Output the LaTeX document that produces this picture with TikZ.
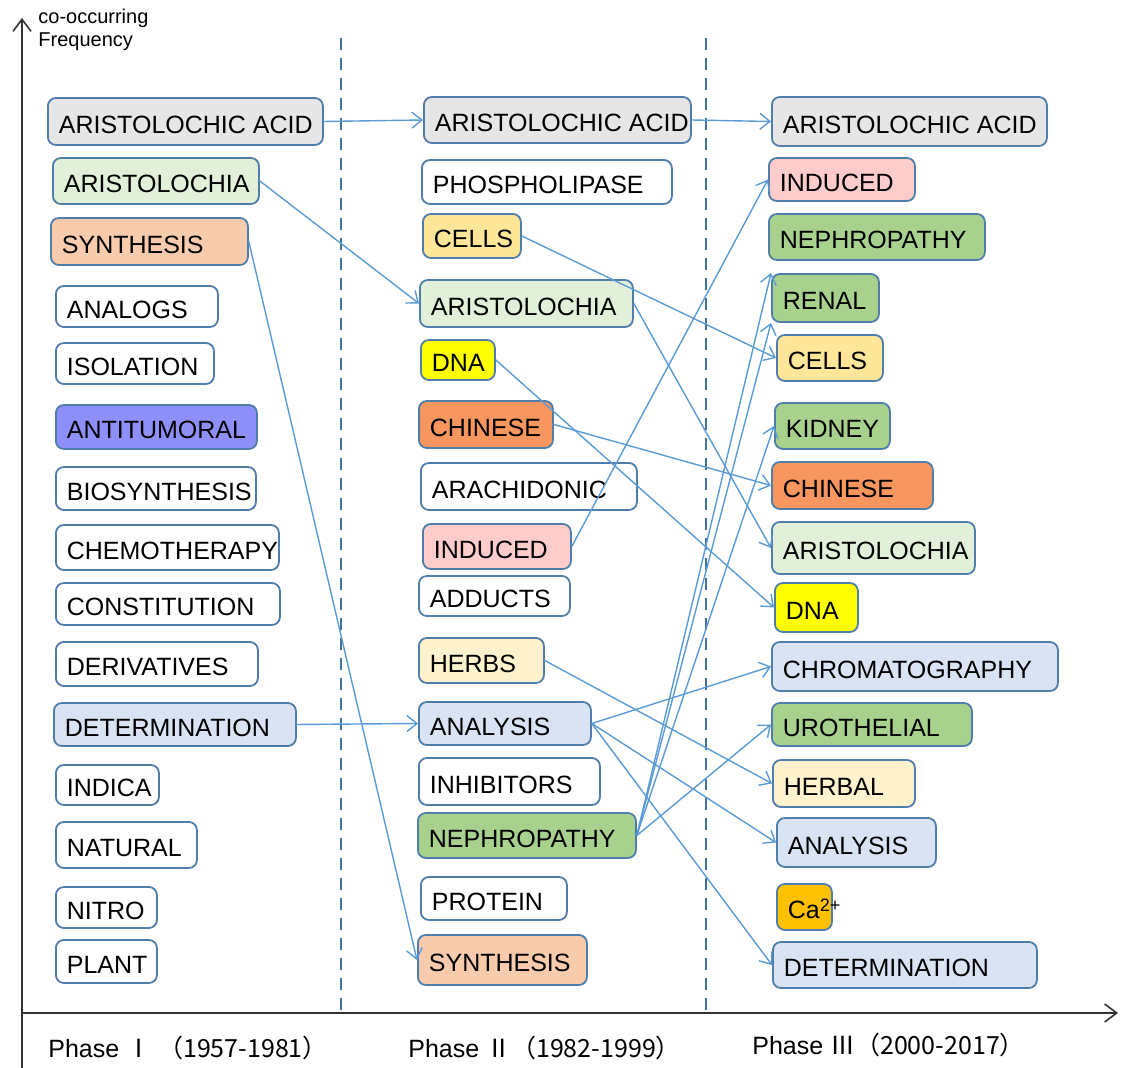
\documentclass[tikz,border=0pt]{standalone}
\usepackage{fontspec}
\setmainfont{Liberation Sans}
\newfontfamily\cjk{Noto Sans CJK SC}
\usetikzlibrary{arrows.meta}
\definecolor{kwline}{RGB}{80,126,170}
\definecolor{kwlink}{RGB}{91,155,213}
\definecolor{kwdash}{RGB}{65,113,156}
\definecolor{kwgray}{RGB}{231,230,230}
\definecolor{kwlgreen}{RGB}{226,240,217}
\definecolor{kwpeach}{RGB}{248,203,173}
\definecolor{kwpurple}{RGB}{143,143,250}
\definecolor{kwsand}{RGB}{255,230,153}
\definecolor{kwyellow}{RGB}{255,255,0}
\definecolor{kworange}{RGB}{247,150,94}
\definecolor{kwpink}{RGB}{255,204,204}
\definecolor{kwcream}{RGB}{255,242,204}
\definecolor{kwblue}{RGB}{218,227,243}
\definecolor{kwgreen}{RGB}{169,209,142}
\definecolor{kwgold}{RGB}{255,192,0}
\tikzset{
  kw/.style={draw=kwline, line width=0.9pt, rounded corners=4pt, anchor=west,
    inner xsep=5.5pt, inner ysep=0pt, text height=12pt, text depth=0pt,
    font=\fontsize{12.5}{14}\selectfont},
  link/.style={draw=kwlink, line width=0.7pt, -{Straight Barb[length=5pt,width=8pt]}},
  phase/.style={anchor=base west, inner sep=0pt, font=\fontsize{12.5}{14}\selectfont}
}
\begin{document}
\begin{tikzpicture}[x=0.5pt,y=-0.5pt, line join=round, line cap=round]
  \useasboundingbox (0,0) rectangle (1126,1068);
  % axes
  \draw[line width=0.8pt, black!80, -{Straight Barb[length=6pt,width=9pt]}] (22,1068) -- (22,18);
  \draw[line width=0.8pt, black!80, -{Straight Barb[length=6pt,width=9pt]}] (22,1013) -- (1118,1013);
  \node[anchor=north west, align=left, inner sep=0pt, font=\fontsize{10}{11.5}\selectfont] (freq) at (38,9) {co-occurring\\Frequency};
  % phase borders
  \draw[kwdash, line width=1.4pt, dash pattern=on 6pt off 4pt, line cap=butt] (341,38) -- (341,1010);
  \draw[kwdash, line width=1.4pt, dash pattern=on 6pt off 4pt, line cap=butt] (706,38) -- (706,1010);
  % keywords: left/right/top/bottom/fill/name/text
  \foreach \xa/\xb/\ya/\yb/\col/\nm/\txt in {
    47/322/98/145/kwgray/aaI/ARISTOLOCHIC ACID,
    52/258/158/204/kwlgreen/arisI/ARISTOLOCHIA,
    50/247/218/265/kwpeach/synI/SYNTHESIS,
    55/217/286/327/white/anaI/ANALOGS,
    55/213/343/384/white/isoI/ISOLATION,
    55/256/405/449/kwpurple/antiI/ANTITUMORAL,
    55/255/467/510/white/biosI/BIOSYNTHESIS,
    55/278/525/570/white/chemI/CHEMOTHERAPY,
    55/279/583/625/white/consI/CONSTITUTION,
    55/257/642/686/white/derI/DERIVATIVES,
    53/295/703/746/kwblue/detI/DETERMINATION,
    55/158/765/805/white/indI/INDICA,
    55/196/822/868/white/natI/NATURAL,
    55/156/887/928/white/nitI/NITRO,
    55/156/940/983/white/plaI/PLANT,
    423/690/97/143/kwgray/aaII/ARISTOLOCHIC ACID,
    421/671/160/204/white/phosII/PHOSPHOLIPASE,
    422/520/214/258/kwsand/cellsII/CELLS,
    419/632/280/327/kwlgreen/arisII/ARISTOLOCHIA,
    420/494/340/380/kwyellow/dnaII/DNA,
    418/552/401/448/kworange/chinII/CHINESE,
    420/636/463/510/white/arachII/ARACHIDONIC,
    422/570/524/569/kwpink/indII/INDUCED,
    418/569/576/616/white/addII/ADDUCTS,
    418/543/638/683/kwcream/herbsII/HERBS,
    418/590/702/745/kwblue/anaII/ANALYSIS,
    418/599/758/805/white/inhII/INHIBITORS,
    417/635/813/858/kwgreen/nephII/NEPHROPATHY,
    420/566/877/920/white/protII/PROTEIN,
    417/586/935/985/kwpeach/synII/SYNTHESIS,
    771/1046/97/146/kwgray/aaIII/ARISTOLOCHIC ACID,
    768/914/158/201/kwpink/indIII/INDUCED,
    768/984/214/260/kwgreen/nephIII/NEPHROPATHY,
    771/878/274/322/kwgreen/renIII/RENAL,
    776/882/335/381/kwsand/cellsIII/CELLS,
    774/889/403/449/kwgreen/kidIII/KIDNEY,
    771/932/462/509/kworange/chinIII/CHINESE,
    771/974/522/574/kwlgreen/arisIII/ARISTOLOCHIA,
    774/857/583/632/kwyellow/dnaIII/DNA,
    771/1057/642/691/kwblue/chromIII/CHROMATOGRAPHY,
    771/971/703/746/kwgreen/uroIII/UROTHELIAL,
    772/914/760/807/kwcream/herbIII/HERBAL,
    776/935/818/867/kwblue/anaIII/ANALYSIS,
    776/831/884/930/kwgold/caIII/Ca{\fontsize{9}{10}\selectfont\raisebox{3.5pt}{2+}},
    772/1036/942/988/kwblue/detIII/DETERMINATION}{
    \pgfmathsetmacro\w{(\xb-\xa)*0.5-11}
    \pgfmathsetmacro\h{(\yb-\ya)*0.5}
    \node[kw, fill=\col, minimum height=\h pt] (\nm) at (\xa,{(\ya+\yb)/2}) {\makebox[\w pt][l]{\txt}};
  }
  % phase I -> phase II
  \draw[link] (aaI.east) -- (aaII.west);
  \draw[link] (arisI.east) -- (arisII.west);
  \draw[link] (synI.east) -- (synII.west);
  \draw[link] (detI.east) -- (anaII.west);
  % phase II -> phase III
  \draw[link] (aaII.east) -- (aaIII.west);
  \draw[link] (cellsII.east) -- (cellsIII.west);
  \draw[link] (arisII.east) -- (arisIII.west);
  \draw[link] (dnaII.east) -- (dnaIII.west);
  \draw[link] (chinII.east) -- (chinIII.west);
  \draw[link] (indII.east) -- (indIII.west);
  \draw[link] (herbsII.east) -- (herbIII.west);
  \foreach \t in {chromIII,anaIII,detIII}
    \draw[link] (anaII.east) -- (\t.west);
  \draw[link] (nephII.east) -- (renIII.north west);
  \draw[link] (nephII.east) -- (renIII.south west);
  \draw[link] (nephII.east) -- (kidIII.west);
  \draw[link] (nephII.east) -- (uroIII.west);
  % phase labels
  \node[phase] (phI) at (48,1058) {Phase {\cjk Ⅰ} {\cjk （1957-1981）}};
  \node[phase] (phII) at (408,1058) {Phase {\cjk Ⅱ（1982-1999）}};
  \node[phase] (phIII) at (752,1055) {Phase {\cjk Ⅲ（2000-2017）}};
\end{tikzpicture}
\end{document}
